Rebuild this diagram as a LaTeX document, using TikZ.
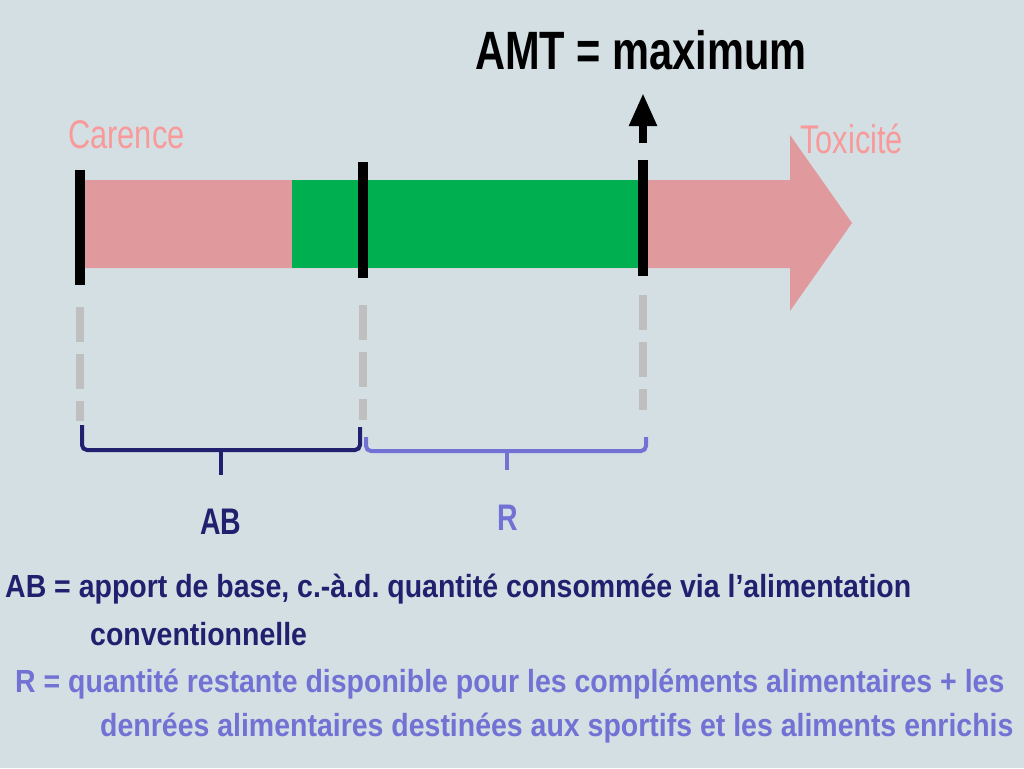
\documentclass[tikz,border=0pt]{standalone}
\usepackage{fontspec}
\setmainfont[FakeStretch=0.77]{Liberation Sans}
\newfontfamily\legendfont[FakeStretch=0.89]{Liberation Sans}
\usepackage{xcolor}
\usepackage{tikz}
\usetikzlibrary{positioning,arrows.meta}
\frenchspacing
\tikzset{
  limit/.style={line width=10pt, draw=black},
  guide/.style={line width=8pt, draw=guidegray, dash pattern=on 35pt off 12pt},
  brace/.style={line width=4pt, rounded corners=5pt},
  zone/.style={font=\fontsize{40}{48}\selectfont, text=zonepink, inner sep=0pt, anchor=base west},
  part/.style={font=\bfseries\fontsize{37}{42}\selectfont, inner sep=0pt},
  legend/.style={font=\legendfont\bfseries\fontsize{32}{40}\selectfont, inner sep=0pt, anchor=base west},
}
\definecolor{slide}{HTML}{D4DFE4}
\definecolor{barpink}{HTML}{E09A9E}
\definecolor{bargreen}{HTML}{00B050}
\definecolor{zonepink}{HTML}{F89A9A}
\definecolor{guidegray}{HTML}{C0BFBF}
\definecolor{navy}{HTML}{20206E}
\definecolor{lilac}{HTML}{7272D4}
\begin{document}
\begin{tikzpicture}[x=1pt, y=-1pt]
    \fill[slide] (0,0) rectangle (1024,768);
    \useasboundingbox (0,0) rectangle (1024,768);
    \fill[barpink] (80,180) -- (790,180) -- (790,135) -- (852,223) -- (790,311)
      -- (790,268) -- (80,268) -- cycle;
    \fill[bargreen] (292,180) rectangle (643,268);
    \draw[limit] (80,170) -- (80,285);
    \draw[limit] (363,162) -- (363,278);
    \draw[limit] (643,160) -- (643,276);
    \draw[guide] (80,307) -- (80,421);
    \draw[guide] (363,305) -- (363,420);
    \draw[guide] (643,295) -- (643,410);
    \node[zone] (carence) at (68,148) {Carence};
    \node[zone] (toxicite) at (800,153) {Toxicité};
    \node[font=\bfseries\fontsize{54}{60}\selectfont, inner sep=0pt, anchor=base] (amt) at (641,69) {AMT = maximum};
    \coordinate (maxfoot) at (643,143);
    \coordinate (maxtip) at (643,93);
    \draw[-{Triangle[length=33pt,width=26pt]}, line width=8pt] (maxfoot) -- (maxtip);
    \draw[brace, navy] (82,425) -- (82,450) -- (360,450) -- (360,427);
    \draw[brace, navy] (221,450) -- (221,475);
    \draw[brace, lilac] (366,437) -- (366,451) -- (646,451) -- (646,437);
    \draw[brace, lilac] (507,451) -- (507,470);
    \node[part, text=navy] (ab) at (221,522) {AB};
    \node[part, text=lilac] (r) at (508,518) {R};
    \node[legend, text=navy] (abdef) at (5,597) {AB = apport de base, c.-à.d. quantité consommée via l’alimentation};
    \node[legend, text=navy] (abdefb) at (90,645) {conventionnelle};
    \node[legend, text=lilac] (rdef) at (15,692) {R = quantité restante disponible pour les compléments alimentaires + les};
    \node[legend, text=lilac] (rdefb) at (100,736) {denrées alimentaires destinées aux sportifs et les aliments enrichis};
  \end{tikzpicture}
\end{document}
